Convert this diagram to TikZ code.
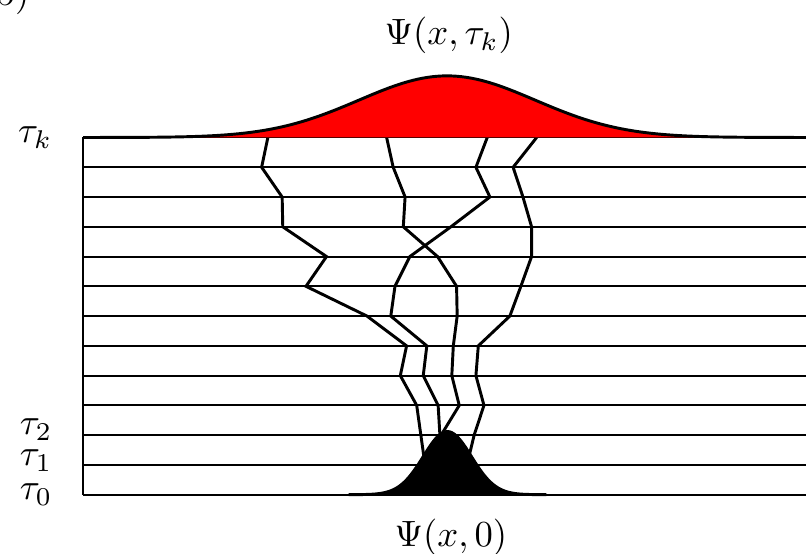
\documentclass[tikz,border=0pt]{standalone}
\begin{document}
\begin{tikzpicture}[x=0.2855cm,y=0.2855cm]
\useasboundingbox (-2.79,-1.99) rectangle (24.29,16.62);
\coordinate (O) at (0,0); \coordinate (K) at (0,12);
% imaginary time slices
\foreach \i in {0,...,12} \draw[line width=0.55pt] (0,\i) -- (24.29,\i);
\draw[line width=0.55pt] (O) -- (K);
% walkers
\draw[line width=0.8pt] (6.21,12) -- (6.00,11) -- (6.69,10) -- (6.71,9) -- (8.18,8) -- (7.49,7) -- (9.54,6) -- (10.87,5) -- (10.66,4) -- (11.21,3) -- (11.35,2) -- (11.49,1);
\draw[line width=0.8pt] (10.20,12) -- (10.42,11) -- (10.82,10) -- (10.76,9) -- (11.91,8) -- (12.55,7) -- (12.57,6) -- (12.44,5) -- (12.39,4) -- (12.64,3) -- (12.03,2) -- (12.0,1);
\draw[line width=0.8pt] (13.58,12) -- (13.20,11) -- (13.67,10) -- (12.36,9) -- (10.98,8) -- (10.48,7) -- (10.34,6) -- (11.55,5) -- (11.43,4) -- (11.93,3) -- (11.99,2) -- (12.0,1);
\draw[line width=0.8pt] (15.24,12) -- (14.45,11) -- (14.78,10) -- (15.07,9) -- (15.07,8) -- (14.71,7) -- (14.34,6) -- (13.28,5) -- (13.20,4) -- (13.47,3) -- (13.14,2) -- (12.9,1);
% distributions
\filldraw[fill=red,line width=0.8pt] plot[domain=0:24.29,samples=150] (\x,{12+2.07*exp(-((\x-12.23)^2)/(2*2.96^2))});
\filldraw[line width=0.8pt] plot[domain=8.92:15.57,samples=120] (\x,{2.12*exp(-((\x-12.24)^2)/(2*0.806^2))});
\node (top) at (12.29,15.42) {$\Psi(x,\tau_k)$};
\node (bot) at (12.36,-1.42) {$\Psi(x,0)$};
\node[left] (tk) at (-0.6,12) {$\tau_k$};
\node[left] (t2) at (-0.6,2.18) {$\tau_2$};
\node[left] (t1) at (-0.6,1.15) {$\tau_1$};
\node[left] (t0) at (-0.6,0) {$\tau_0$};
\node[anchor=base east,inner sep=0pt] (lbl) at (-1.78,16.42) {(b)};
\end{tikzpicture}
\end{document}
